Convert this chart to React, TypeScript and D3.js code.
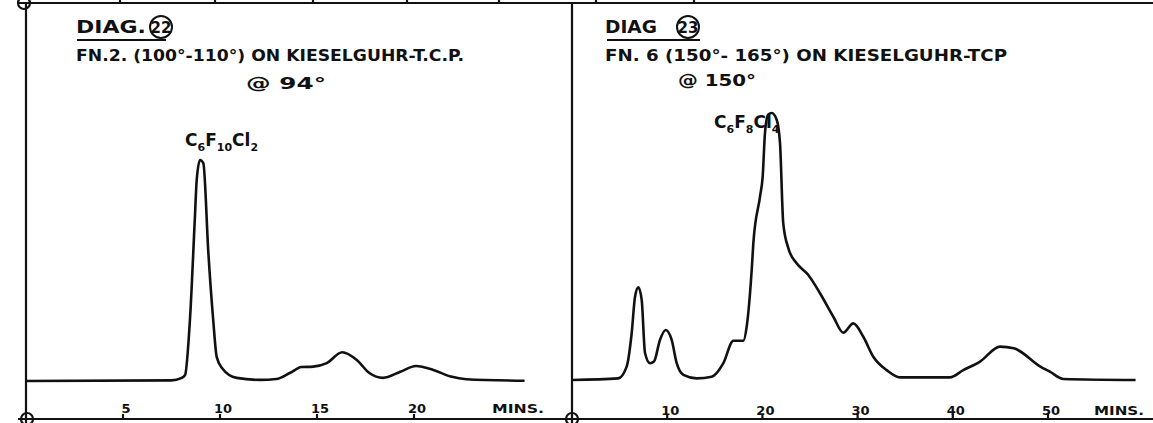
import React from "react";
import * as d3 from "d3";

// ---- data ----
// Left: DIAG. 22 — time in minutes, detector response (relative units)
const leftTimes = [0, 7.5, 8.0, 8.2, 8.45, 8.7, 8.8, 8.97, 9.14, 9.4, 9.65, 9.83, 10.1, 10.86, 12.06, 12.9, 13.6, 14.2, 14.8, 15.5, 16.3, 17.05, 17.7, 18.4, 19.3, 20.1, 21.0, 21.9, 22.7, 25.7];
const leftValues = [0, 0.3, 1.3, 2.7, 27.6, 72.9, 91, 100, 98.6, 58, 27.6, 10.9, 5.9, 1.4, 0.5, 0.9, 3.6, 6.3, 6.5, 8.1, 13, 9.5, 3.6, 1.4, 4.2, 6.8, 5, 2, 0.8, 0.1];
const leftTicks = [5, 10, 15, 20];

// Right: DIAG 23
const rightTimes = [0, 4.86, 5.74, 6.27, 6.62, 6.97, 7.32, 7.67, 8.19, 8.61, 9.24, 9.84, 10.47, 11.0, 11.7, 13.1, 14.67, 15.9, 16.95, 18.0, 18.35, 18.9, 19.05, 19.75, 20.03, 20.27, 20.6, 20.98, 21.5, 21.85, 22.19, 22.72, 23.6, 24.8, 26.05, 27.45, 28.5, 29.55, 30.6, 31.65, 33.05, 34.45, 39.7, 41.1, 42.86, 44.96, 46.4, 49.2, 50.2, 51.6, 59.2];
const rightValues = [0, 0.6, 5, 17.6, 31.2, 34.7, 30, 10.1, 6.3, 6.9, 15, 18.7, 15, 6.3, 1.9, 0.6, 1.2, 6.3, 14.7, 14.7, 20, 42.5, 51.3, 68.7, 76.2, 92.5, 99.4, 100, 97.5, 88.7, 58.7, 49.4, 43.7, 39.4, 32.5, 23.7, 17.7, 21.2, 16.2, 8.7, 3.7, 1, 1, 3.7, 6.9, 12.5, 11.9, 5, 3.1, 0.4, 0];
const rightTicks = [10, 20, 30, 40, 50];

const topTickMarksLeft = [120, 215, 313, 407, 499];
const topTickMarksRight = [596, 694];

const INK = "#111";
const FONT = "'DejaVu Sans', 'Liberation Sans', sans-serif";

export default function App() {
  const W = 1153, H = 423;
  const xL = d3.scaleLinear().domain([0, 25]).range([26, 26 + 19.4 * 25]);
  const yL = d3.scaleLinear().domain([0, 100]).range([381, 160]);
  const xR = d3.scaleLinear().domain([0, 60]).range([572, 572 + 9.52 * 60]);
  const yR = d3.scaleLinear().domain([0, 100]).range([380, 113]);

  const lineL = d3
    .line<number>()
    .x((_, i) => xL(leftTimes[i]))
    .y((v) => yL(v))
    .curve(d3.curveMonotoneX);
  const lineR = d3
    .line<number>()
    .x((_, i) => xR(rightTimes[i]))
    .y((v) => yR(v))
    .curve(d3.curveMonotoneX);

  const bottomY = 419;
  const topY = 3;

  const sub = (s: string) => (
    <tspan fontSize={11} dy={5}>{s}</tspan>
  );
  const up = (s: string) => (
    <tspan dy={-5}>{s}</tspan>
  );

  return (
    <svg
      width={W}
      height={H}
      style={{ position: "fixed", left: 0, top: 0, background: "#fff" }}
      fontFamily={FONT}
    >
      <rect x={0} y={0} width={W} height={H} fill="#fff" />
      {/* frame */}
      <g stroke={INK} strokeWidth={2.2} fill="none">
        <line x1={18} y1={topY} x2={W} y2={topY} />
        <line x1={26} y1={topY} x2={26} y2={H} />
        <line x1={572} y1={topY} x2={572} y2={H} />
        <line x1={18} y1={bottomY} x2={W} y2={bottomY} />
        <circle cx={24} cy={topY} r={6} />
        <circle cx={27} cy={bottomY} r={6} />
        <circle cx={572} cy={bottomY} r={6} />
        {topTickMarksLeft.concat(topTickMarksRight).map((x) => (
          <line key={"tt" + x} x1={x} y1={0} x2={x} y2={topY} />
        ))}
        {leftTicks.map((t) => (
          <line key={"lt" + t} x1={xL(t)} y1={bottomY - 5} x2={xL(t)} y2={bottomY} />
        ))}
        {rightTicks.map((t) => (
          <line key={"rt" + t} x1={xR(t)} y1={bottomY - 5} x2={xR(t)} y2={bottomY} />
        ))}
      </g>

      {/* traces */}
      <path d={lineL(leftValues) || ""} fill="none" stroke={INK} strokeWidth={2.6} strokeLinejoin="round" />
      <path d={lineR(rightValues) || ""} fill="none" stroke={INK} strokeWidth={2.6} strokeLinejoin="round" />

      {/* axis labels */}
      <g fill={INK} fontWeight="bold" fontSize={13}>
        {leftTicks.map((t) => (
          <text key={"ll" + t} x={xL(t) + 3} y={413} textAnchor="middle">{t}</text>
        ))}
        <text x={492} y={413} textLength={52} lengthAdjust="spacingAndGlyphs" fontSize={12}>MINS.</text>
        {rightTicks.map((t) => (
          <text key={"rl" + t} x={xR(t) + 3} y={415} textAnchor="middle">{t}</text>
        ))}
        <text x={1094} y={415} textLength={50} lengthAdjust="spacingAndGlyphs" fontSize={12}>MINS.</text>
      </g>

      {/* left titles */}
      <g fill={INK} fontWeight="bold">
        <text x={76} y={33} fontSize={17} textLength={70} lengthAdjust="spacingAndGlyphs">DIAG.</text>
        <text x={161} y={33} fontSize={15} textAnchor="middle">22</text>
        <ellipse cx={161} cy={27} rx={11} ry={11} fill="none" stroke={INK} strokeWidth={2} />
        <line x1={77} y1={40} x2={166} y2={40} stroke={INK} strokeWidth={2} />
        <text x={76} y={61} fontSize={16} textLength={388} lengthAdjust="spacingAndGlyphs">
          FN.2. (100°-110°)  ON  KIESELGUHR-T.C.P.
        </text>
        <text x={246} y={89} fontSize={16} textLength={80} lengthAdjust="spacingAndGlyphs">@  94°</text>
        <text x={185} y={146} fontSize={17}>
          C{sub("6")}{up("F")}{sub("10")}{up("Cl")}{sub("2")}
        </text>
      </g>

      {/* right titles */}
      <g fill={INK} fontWeight="bold">
        <text x={605} y={33} fontSize={17} textLength={52} lengthAdjust="spacingAndGlyphs">DIAG</text>
        <text x={688} y={33} fontSize={15} textAnchor="middle">23</text>
        <ellipse cx={688} cy={27} rx={11} ry={11} fill="none" stroke={INK} strokeWidth={2} />
        <line x1={607} y1={40} x2={700} y2={40} stroke={INK} strokeWidth={2} />
        <text x={605} y={61} fontSize={16} textLength={402} lengthAdjust="spacingAndGlyphs">
          FN. 6  (150°- 165°)  ON   KIESELGUHR-TCP
        </text>
        <text x={678} y={86} fontSize={15} textLength={78} lengthAdjust="spacingAndGlyphs">@   150°</text>
        <text x={714} y={128} fontSize={17}>
          C{sub("6")}{up("F")}{sub("8")}{up("Cl")}{sub("4")}
        </text>
      </g>
    </svg>
  );
}
